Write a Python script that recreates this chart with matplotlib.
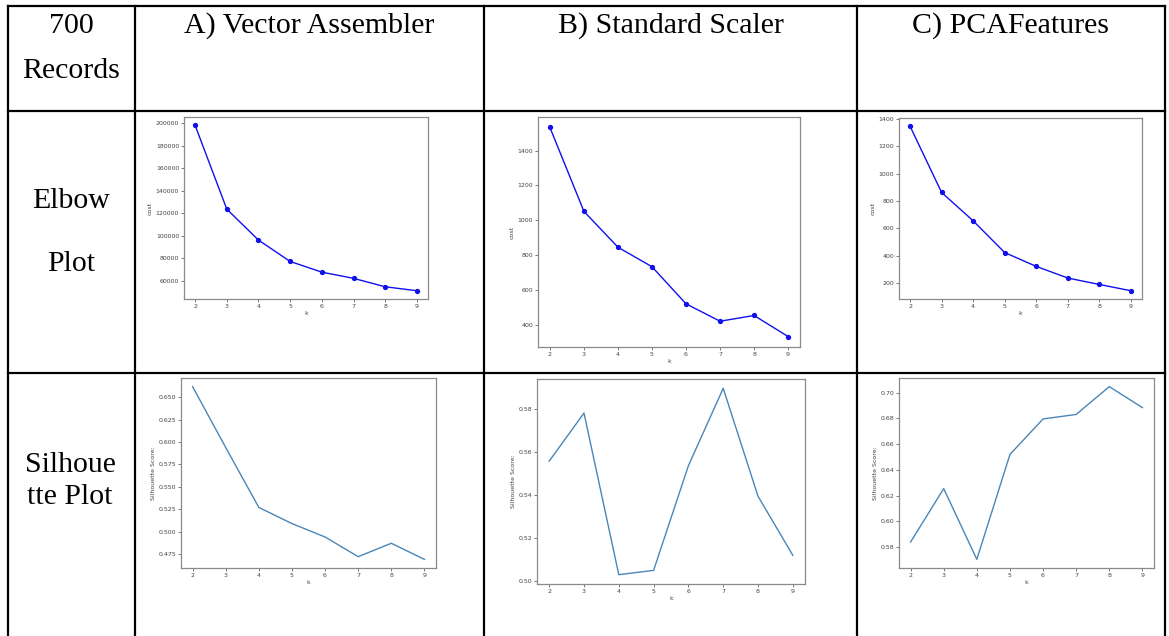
import matplotlib
matplotlib.use("Agg")
import matplotlib.pyplot as plt
from matplotlib.lines import Line2D
from matplotlib.ticker import MultipleLocator

# =============================================================================
# data
# =============================================================================
k_values = [2, 3, 4, 5, 6, 7, 8, 9]

elbow_vector = [198000, 123500, 96000, 77000, 67500, 62000, 54500, 51000]
elbow_scaler = [1533, 1051, 845, 733, 520, 420, 453, 332]
elbow_pca = [1346, 862, 655, 423, 322, 237, 190, 144]

sil_vector = [0.662, 0.594, 0.527, 0.509, 0.494, 0.472, 0.487, 0.469]
sil_scaler = [0.5556, 0.578, 0.5028, 0.5048, 0.5535, 0.5895, 0.5393, 0.5118]
sil_pca = [0.5839, 0.6254, 0.5704, 0.6519, 0.6795, 0.683, 0.7046, 0.6883]

col_titles = ["A) Vector Assembler", "B) Standard Scaler", "C) PCAFeatures"]
corner_lines = ["700", "Records"]
elbow_lines = ["Elbow", "Plot"]
sil_lines = ["Silhoue", "tte Plot"]

W, H = 1169, 636
fig = plt.figure(figsize=(W / 100, H / 100), dpi=100)
fig.patch.set_facecolor("white")


def px(x, y):
    return x / W, 1 - y / H


def hline(y, x0, x1, lw=1.6):
    a, b = px(x0, y)
    c, d = px(x1, y)
    fig.add_artist(Line2D([a, c], [b, d], color="black", lw=lw, transform=fig.transFigure))


def vline(x, y0, y1, lw=1.6):
    a, b = px(x, y0)
    c, d = px(x, y1)
    fig.add_artist(Line2D([a, c], [b, d], color="black", lw=lw, transform=fig.transFigure))


# table grid
cols = [8, 135, 484, 857, 1165]
rows = [6, 111, 373]
for y in rows:
    hline(y, cols[0], cols[-1])
for x in cols:
    vline(x, rows[0], H)

serif = "Liberation Serif"
fsz = 21.5


def cell_text(x, y, s):
    # y is the baseline, in pixels from the top
    fig.text(*px(x, y), s, ha="center", va="baseline", family=serif, fontsize=fsz)


cell_text(71, 33, corner_lines[0])
cell_text(71, 78, corner_lines[1])
centers = [(cols[i] + cols[i + 1]) / 2 for i in range(1, 4)]
for cx, t in zip(centers, col_titles):
    cell_text(cx, 33, t)
cell_text(71, 208, elbow_lines[0])
cell_text(71, 271, elbow_lines[1])
cell_text(70, 472, sil_lines[0])
cell_text(70, 504, sil_lines[1])


def make_ax(x0, y0, x1, y1):
    l, t = px(x0, y0)
    r, b = px(x1, y1)
    ax = fig.add_axes([l, b, r - l, t - b])
    for s in ax.spines.values():
        s.set_color("#8a8a8a")
        s.set_linewidth(0.9)
    ax.tick_params(labelsize=4.5, colors="#444444", length=2, width=0.5, pad=1.5)
    ax.set_xticks(k_values)
    return ax


def label(ax, ylab):
    ax.set_xlabel("k", fontsize=4.5, color="#444444", labelpad=1.5)
    ax.set_ylabel(ylab, fontsize=4.5, color="#444444", labelpad=2)


# elbow plots
ax = make_ax(184, 117, 428, 299)
ax.plot(k_values, elbow_vector, "o-", color="#1010ee", lw=1, ms=2.8)
ax.yaxis.set_major_locator(MultipleLocator(20000))
label(ax, "cost")

ax = make_ax(538, 117, 800, 347)
ax.plot(k_values, elbow_scaler, "o-", color="#1010ee", lw=1, ms=2.8)
ax.yaxis.set_major_locator(MultipleLocator(200))
label(ax, "cost")

ax = make_ax(899, 118, 1142, 299)
ax.plot(k_values, elbow_pca, "o-", color="#1010ee", lw=1, ms=2.8)
ax.yaxis.set_major_locator(MultipleLocator(200))
label(ax, "cost")

# silhouette plots
ax = make_ax(181, 378, 436, 568)
ax.plot(k_values, sil_vector, color="#4a86b8", lw=1)
ax.yaxis.set_major_locator(MultipleLocator(0.025))
label(ax, "Silhouette Score:")

ax = make_ax(537, 379, 805, 584)
ax.plot(k_values, sil_scaler, color="#4a86b8", lw=1)
ax.yaxis.set_major_locator(MultipleLocator(0.02))
label(ax, "Silhouette Score:")

ax = make_ax(899, 378, 1154, 568)
ax.plot(k_values, sil_pca, color="#4a86b8", lw=1)
ax.yaxis.set_major_locator(MultipleLocator(0.02))
label(ax, "Silhouette Score:")

fig.savefig("out.png", dpi=100)
